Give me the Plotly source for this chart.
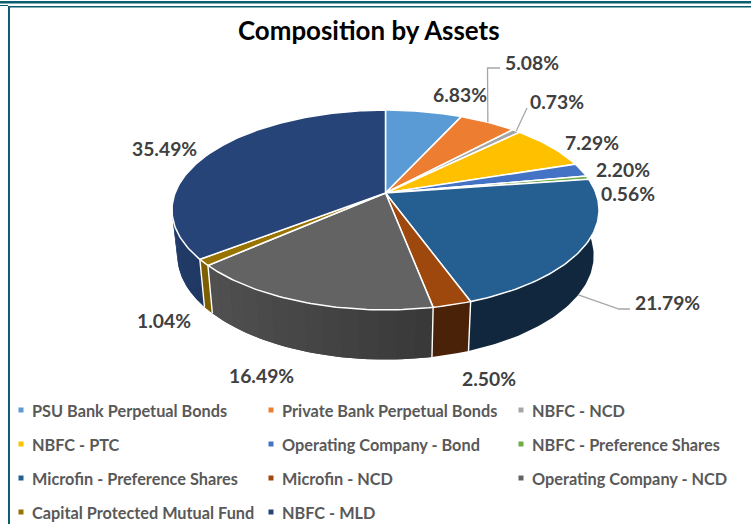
import math
import plotly.graph_objects as go

# ---- data ----
categories = ["PSU Bank Perpetual Bonds", "Private Bank Perpetual Bonds", "NBFC - NCD",
              "NBFC - PTC", "Operating Company - Bond", "NBFC - Preference Shares",
              "Microfin - Preference Shares", "Microfin - NCD", "Operating Company - NCD",
              "Capital Protected Mutual Fund", "NBFC - MLD"]
values = [6.83, 5.08, 0.73, 7.29, 2.20, 0.56, 21.79, 2.50, 16.49, 1.04, 35.49]
colors = ["#5B9BD5", "#ED7D31", "#A5A5A5", "#FFC000", "#4472C4", "#70AD47",
          "#255E91", "#9E480E", "#636363", "#997300", "#264478"]
title = "Composition by Assets"

# ---- layout constants (pixels) ----
W, H = 751, 524
CX, CY = 385.5, 193.0
A, B, K = 210.4, 97.0, 0.17
DEPTH, XF, YF = 45.0, 0.975, 1.04
FONT = "Lato"
LABEL_POS = [(460, 94), (532, 62), (557, 101), (592, 142), (623, 169), (628, 193),
             (667, 302), (489, 378), (261, 375), (164, 320), (164, 148)]
LEG_COL_MARK = [21, 271, 521]
LEG_COL_TEXT = [30, 280, 530]
LEG_ROWS = [410, 444, 478, 512]
FLAT_WALL = {6: 0.42, 7: 0.47}  # slices whose side wall is evenly lit


def top(theta):
    s, c = math.sin(theta), math.cos(theta)
    w = 1 + K * c
    return CX + A * s / w, CY - B * c / w


def bottom(theta):
    s, c = math.sin(theta), math.cos(theta)
    w = 1 + K * c
    return CX + XF * A * s / w, CY + DEPTH - YF * B * c / w


def shade(i, theta):
    f = FLAT_WALL.get(i, 0.62 - 0.26 * math.sin(theta))
    hexcol = colors[i]
    r, g, b = (int(hexcol[k:k + 2], 16) for k in (1, 3, 5))
    return f"rgb({r * f:.0f},{g * f:.0f},{b * f:.0f})"


total = sum(values)
edges = [0.0]
for v in values:
    edges.append(edges[-1] + v / total * 2 * math.pi)

fig = go.Figure()


def poly(points, fill):
    fig.add_trace(go.Scatter(x=[q[0] for q in points], y=[q[1] for q in points], mode="lines", fill="toself",
                             fillcolor=fill, line=dict(color=fill, width=0),
                             hoverinfo="skip", showlegend=False))


# side wall: a solid base per slice, far to near
order = sorted(range(len(values)), key=lambda i: -math.cos((edges[i] + edges[i + 1]) / 2))
for i in order:
    a0, a1 = edges[i], edges[i + 1]
    if math.cos((a0 + a1) / 2) > 0.6:
        continue
    n = max(1, int((a1 - a0) / math.radians(1)))
    ts = [a0 + (a1 - a0) * j / n for j in range(n + 1)]
    poly([top(t) for t in ts] + [bottom(t) for t in reversed(ts)] + [top(a0)], shade(i, (a0 + a1) / 2))

# lateral shading strips for the slices with graded walls, far to near
strips = []
for i in range(len(values)):
    if i in FLAT_WALL:
        continue
    a0, a1 = edges[i], edges[i + 1]
    n = max(1, int((a1 - a0) / math.radians(4)))
    for j in range(n):
        t0 = a0 + (a1 - a0) * j / n
        t1 = a0 + (a1 - a0) * (j + 1) / n
        tm = (t0 + t1) / 2
        if math.cos(tm) < 0.25:
            strips.append((math.cos(tm), t0, t1, shade(i, tm)))
strips.sort(key=lambda r: -r[0])
for _, t0, t1, fill in strips:
    ts = [t0 + (t1 - t0) * j / 4 for j in range(5)]
    poly([top(t) for t in ts] + [bottom(t) for t in reversed(ts)] + [top(t0)], fill)

# white separators on the wall
for e in edges[:-1]:
    if math.cos(e) < 0:
        p, q = top(e), bottom(e)
        fig.add_trace(go.Scatter(x=[p[0], q[0]], y=[p[1], q[1]], mode="lines",
                                 line=dict(color="white", width=1.4), hoverinfo="skip", showlegend=False))

# top wedges
for i, (name, col) in enumerate(zip(categories, colors)):
    a0, a1 = edges[i], edges[i + 1]
    n = max(4, int((a1 - a0) / math.radians(1)))
    pts = [(CX, CY)] + [top(a0 + (a1 - a0) * j / n) for j in range(n + 1)] + [(CX, CY)]
    fig.add_trace(go.Scatter(x=[q[0] for q in pts], y=[q[1] for q in pts], mode="lines", fill="toself",
                             fillcolor=col, line=dict(color="white", width=1.5),
                             name=name, text=f"{name}: {values[i]:.2f}%", hoverinfo="text",
                             showlegend=False))

# leader lines
GREY = "#A6A6A6"


def mid(i):
    return (edges[i] + edges[i + 1]) / 2


leaders = [
    (top(mid(1)), (487.5, 68), (500, 68)),
    (top(mid(2)), (527, 108)),
    (bottom(mid(6)), (619, 309), (630, 309)),
]
for pts in leaders:
    fig.add_trace(go.Scatter(x=[q[0] for q in pts], y=[q[1] for q in pts], mode="lines",
                             line=dict(color=GREY, width=1.3), hoverinfo="skip", showlegend=False))

# data labels
anns = []
for v, (x, y) in zip(values, LABEL_POS):
    anns.append(dict(x=x, y=y, text=f"<b>{v:.2f}%</b>", showarrow=False, xanchor="center", yanchor="middle",
                     font=dict(family=FONT, size=19.3, color="#404040")))
# title
anns.append(dict(x=369, y=30, text=f"<b>{title}</b>", showarrow=False, xanchor="center", yanchor="middle",
                 font=dict(family=FONT, size=25.9, color="#000000")))

# key
layout_slots = [(r, c) for r in range(4) for c in range(3)]
for (r, c), name, col in zip(layout_slots, categories, colors):
    fig.add_trace(go.Scatter(x=[LEG_COL_MARK[c]], y=[LEG_ROWS[r]], mode="markers",
                             marker=dict(symbol="square", size=5, color=col),
                             hoverinfo="skip", showlegend=False))
    anns.append(dict(x=LEG_COL_TEXT[c], y=LEG_ROWS[r], text=f"<b>{name}</b>", showarrow=False,
                     xanchor="left", yanchor="middle", font=dict(family=FONT, size=16.3, color="#595959")))

# frame rules
TEAL = "#0B5E6E"
shapes = [
    dict(type="rect", x0=0, x1=W, y0=1, y1=3.5, fillcolor=TEAL, line_width=0, layer="below"),
    dict(type="rect", x0=8, x1=W, y0=6, y1=7.5, fillcolor=TEAL, line_width=0, layer="below"),
    dict(type="rect", x0=8, x1=10, y0=6, y1=H, fillcolor=TEAL, line_width=0, layer="below"),
    dict(type="rect", x0=0, x1=8, y0=5, y1=6, fillcolor=TEAL, line_width=0, layer="below"),
]

fig.update_layout(width=W, height=H, margin=dict(l=0, r=0, t=0, b=0), paper_bgcolor="white",
                  plot_bgcolor="white", showlegend=False, annotations=anns, shapes=shapes,
                  xaxis=dict(range=[0, W], visible=False, fixedrange=True),
                  yaxis=dict(range=[H, 0], visible=False, fixedrange=True))
fig.write_html("out.html", config=dict(displayModeBar=False),
               post_script="document.body.style.margin='0';document.body.style.overflow='hidden';")
